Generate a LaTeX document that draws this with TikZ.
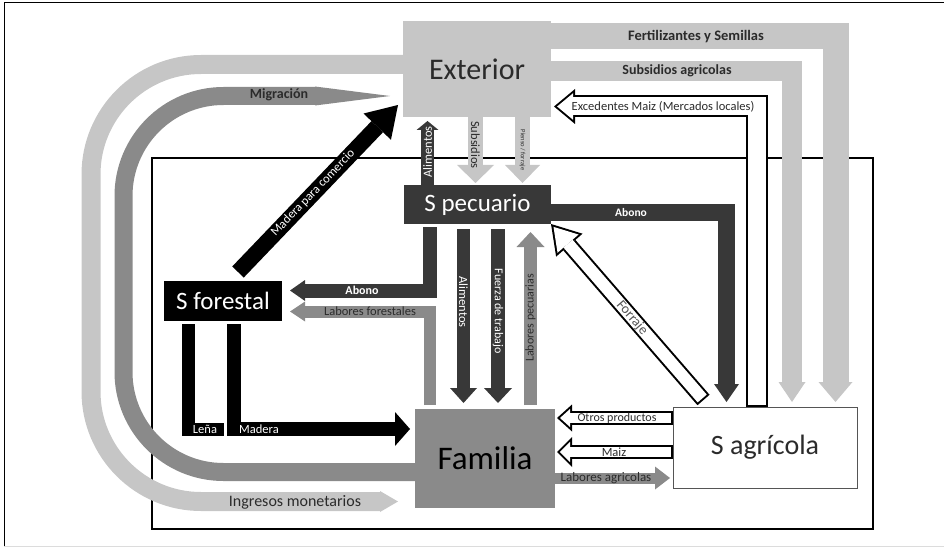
\documentclass[tikz,border=0pt]{standalone}
\usepackage{fontspec}
\setmainfont{Carlito}
\usepackage{tikz}
\usetikzlibrary{arrows.meta}
\definecolor{cc6c6c6}{RGB}{198,198,198}
\definecolor{c8a8a8a}{RGB}{138,138,138}
\definecolor{c383838}{RGB}{56,56,56}
\definecolor{c2b2b2b}{RGB}{43,43,43}
\definecolor{c555555}{RGB}{85,85,85}
\definecolor{cdcdcdc}{RGB}{220,220,220}

\begin{document}
\begin{tikzpicture}[x=1pt, y=-1pt, inner sep=0pt, outer sep=0pt,
  band/.style={line width=#1pt},
  bhead/.style 2 args={-{Triangle[length=#1pt,width=#2pt,line width=0pt]}},
  hollow/.style n args={7}{line width=#1pt, color=black, bhead={#2}{#3},
    postaction={draw, color=white, line width=#4pt, shorten <=2pt, shorten >=#5pt, bhead={#6}{#7}}},
  lbl/.style={font=\fontsize{12.5}{14}\selectfont, text=c2b2b2b},
  wlbl/.style={lbl, text=white}]
  \useasboundingbox (0,0) rectangle (944,548);
  \draw[line width=1pt] (4,546) -- (4,3) -- (944,3);
  \draw[line width=1pt, cdcdcdc] (4,546) -- (944,546);
  \draw[line width=2pt] (152,158) rectangle (873,529);

  \node[fill=cc6c6c6, minimum width=148, minimum height=96, text=c2b2b2b,
    font=\fontsize{30}{34}\selectfont] (ext) at (477,69) {Exterior};
  \node[fill=c383838, minimum width=147, minimum height=39, text=white,
    font=\fontsize{25}{28}\selectfont] (spec) at (477.5,204.5) {S pecuario};
  \node[fill=black, minimum width=118, minimum height=40, text=white,
    font=\fontsize{25}{28}\selectfont] (forest) at (223,301) {S forestal};
  \node[fill=c8a8a8a, minimum width=140, minimum height=99,
    font=\fontsize{33}{36}\selectfont] (fam) at (485,458.5) {Familia};
  \node[draw=c555555, line width=1pt, fill=white, minimum width=184, minimum height=81, text=c2b2b2b,
    font=\fontsize{28}{32}\selectfont] (agr) at (765,447.5) {S agrícola};

  \draw[band=26, cc6c6c6, bhead={20}{34}] ([shift={(0,-32.5)}]ext.east) -| ([shift={(70.5,-5)}]agr.north);
  \draw[band=20, cc6c6c6, bhead={20}{27}] ([shift={(0,2)}]ext.east) -| ([shift={(27,-5)}]agr.north);
  \draw[hollow={22}{21}{35}{18}{3.1}{15.9}{26.5}] ([shift={(-8.5,0)}]agr.north) |- ([shift={(3,37.5)}]ext.east);
  \draw[band=17, c383838, bhead={18}{25}] ([shift={(0,8)}]spec.east) -| ([shift={(-38.5,-5)}]agr.north);
  \draw[hollow={16}{28}{35}{12}{3.8}{22.2}{27.8}] ([shift={(-61.5,-7)}]agr.north) -- (spec.south east);
  \draw[band=16, black, bhead={30}{38}] ([shift={(15,-9)}]forest.north) -- ([shift={(-5,-12)}]ext.south west);
  \draw[band=13, c383838, bhead={9}{22}] ([shift={(-50,0)}]spec.north) -- ([shift={(-49.5,4)}]ext.south);
  \draw[band=15, cc6c6c6, bhead={18}{37}] ([shift={(-1.5,0)}]ext.south) -- ([shift={(-2,-2)}]spec.north);
  \draw[band=15, cc6c6c6, bhead={18}{35}] ([shift={(45.5,0)}]ext.south) -- ([shift={(45,-2)}]spec.north);
  \draw[band=13, c383838, bhead={15}{27}] ([shift={(-14,5)}]spec.south) -- ([shift={(-21.5,-6)}]fam.north);
  \draw[band=14, c383838, bhead={15}{28}] ([shift={(20.5,5)}]spec.south) -- ([shift={(13,-6)}]fam.north);
  \draw[band=13, c8a8a8a, bhead={15}{28}] ([shift={(45.5,-4)}]fam.north) -- ([shift={(53,8)}]spec.south);
  \draw[band=14, c383838, bhead={15}{21}] ([shift={(-47.5,3)}]spec.south) |- ([shift={(8,-10.5)}]forest.east);
  \draw[band=12, c8a8a8a, bhead={15}{20}] ([shift={(-55,-4)}]fam.north) |- ([shift={(8,10.5)}]forest.east);
  \draw[band=13, black] ([shift={(-34.5,3)}]forest.south) |- ([shift={(1,108)}]forest.south);
  \draw[band=14, black, bhead={15}{34}] ([shift={(10.5,3)}]forest.south) |- ([shift={(-5,-29.5)}]fam.west);
  \draw[band=18, c8a8a8a, rounded corners=100pt, bhead={75}{19}] ([shift={(0,13.5)}]fam.west) -- (123.5,472) -- (123.5,96) -- ([shift={(-13,27)}]ext.west);
  \draw[band=19, cc6c6c6, rounded corners=110pt, bhead={18}{21}] ([shift={(0,-4.5)}]ext.west) -- (91,64.5) -- (91,501.5) -- ([shift={(-17,43)}]fam.west);
  \draw[hollow={14}{15}{27}{10}{3}{10}{18}] ([shift={(0,-29.5)}]agr.west) -- ([shift={(2,-40.5)}]fam.east);
  \draw[hollow={14}{15}{30}{10}{2.8}{10.2}{20.4}] ([shift={(0,4.5)}]agr.west) -- ([shift={(2,-6.5)}]fam.east);
  \draw[band=11, c8a8a8a, bhead={15}{23}] ([shift={(0,19.5)}]fam.east) -- ([shift={(-3,30.5)}]agr.west);

  \node[lbl, font=\bfseries\fontsize{14.5}{16}\selectfont] (t-fert) at (696,36.5) {Fertilizantes y Semillas};
  \node[lbl, font=\bfseries\fontsize{14}{16}\selectfont] (t-subagr) at (677,71) {Subsidios agricolas};
  \node[lbl] (t-exced) at (663,106.5) {Excedentes Maiz (Mercados locales)};
  \node[wlbl, font=\bfseries\fontsize{11.5}{14}\selectfont] (t-abonor) at (631,212.5) {Abono};
  \node[lbl, text=c555555, font=\fontsize{14}{16}\selectfont, rotate=-49.3] (t-forraje) at (632,318) {Forraje};
  \node[wlbl, rotate=46.2] (t-madcom) at (313,193) {Madera para comercio};
  \node[wlbl, rotate=90] (t-alimup) at (427.5,152) {Alimentos};
  \node[lbl, rotate=-90] (t-subs) at (475.5,145) {Subsidios};
  \node[lbl, font=\fontsize{6.5}{8}\selectfont, rotate=-90] (t-pienso) at (522.5,150) {Pienso / forraje};
  \node[wlbl, rotate=-90] (t-alimdn) at (463.5,302) {Alimentos};
  \node[wlbl, font=\fontsize{12}{14}\selectfont, rotate=-90] (t-fuerza) at (498,311) {Fuerza de trabajo};
  \node[lbl, font=\fontsize{12}{14}\selectfont, rotate=90] (t-labpec) at (530.5,318) {Labores pecuarias};
  \node[wlbl, font=\bfseries\fontsize{12}{14}\selectfont] (t-abonol) at (362,290.5) {Abono};
  \node[lbl] (t-labfor) at (370,311.5) {Labores forestales};
  \node[wlbl] (t-lena) at (205,429) {Leña};
  \node[wlbl] (t-madera) at (259,429) {Madera};
  \node[lbl, font=\bfseries\fontsize{14}{16}\selectfont] (t-migr) at (279,95) {Migración};
  \node[lbl, font=\fontsize{16}{18}\selectfont] (t-ingr) at (295,502) {Ingresos monetarios};
  \node[lbl, font=\fontsize{12}{14}\selectfont] (t-otros) at (617,418) {Otros productos};
  \node[lbl] (t-maiz) at (614,452) {Maiz};
  \node[lbl, font=\fontsize{13}{14}\selectfont] (t-labagr) at (606,478) {Labores agricolas};
\end{tikzpicture}
\end{document}
